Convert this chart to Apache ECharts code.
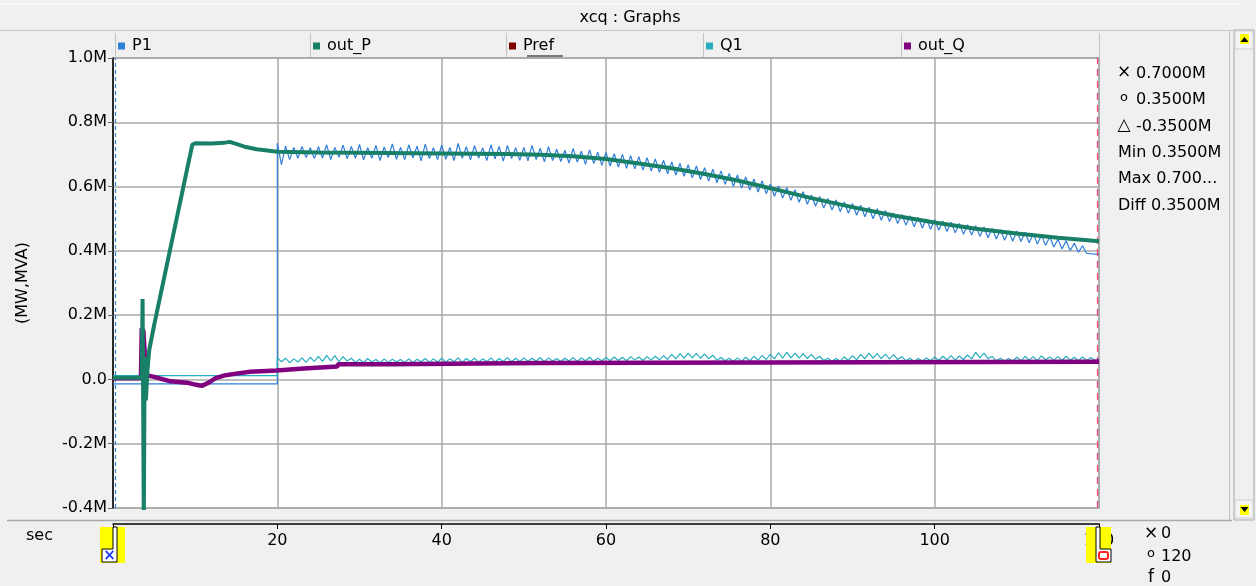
<!DOCTYPE html>
<html><head><meta charset="utf-8">
<script src="https://cdn.jsdelivr.net/npm/echarts@6/dist/echarts.min.js"></script>
<style>html,body{margin:0;padding:0;background:#f0f0f0;}#c{width:1256px;height:586px;}</style>
</head><body><div id="c"></div><script>
// ---------- data ----------
const seriesNames = ['P1', 'out_P', 'Pref', 'Q1', 'out_Q'];
const seriesColors = ['#2f7ed8', '#198068', '#800000', '#27adc0', '#800080'];
const xMin = 0, xMax = 120, xStep = 20;
const yMin = -0.4, yMax = 1.0, yStep = 0.2;
const yName = '(MW,MVA)';
const xName = 'sec';
const titleText = 'xcq : Graphs';

// P1 (M): flat before t=20, noisy samples every 0.5 s from t=20
const p1Early = [[0, -0.014], [20, -0.014]];
const noisyStart = 20, noisyStep = 0.5;
const p1Noisy = [
  0.735, 0.668, 0.726, 0.684, 0.722, 0.688, 0.725, 0.690, 0.721, 0.687,
  0.724, 0.689, 0.730, 0.684, 0.722, 0.691, 0.729, 0.686, 0.725, 0.688,
  0.731, 0.683, 0.721, 0.688, 0.728, 0.681, 0.723, 0.690, 0.733, 0.685,
  0.722, 0.684, 0.730, 0.689, 0.726, 0.680, 0.732, 0.687, 0.721, 0.684,
  0.729, 0.685, 0.722, 0.681, 0.734, 0.688, 0.724, 0.683, 0.727, 0.689,
  0.720, 0.681, 0.730, 0.686, 0.725, 0.679, 0.728, 0.687, 0.721, 0.682,
  0.722, 0.680, 0.728, 0.684, 0.719, 0.677, 0.724, 0.681, 0.716, 0.678,
  0.713, 0.673, 0.719, 0.676, 0.710, 0.669, 0.714, 0.672, 0.707, 0.666,
  0.706, 0.664, 0.702, 0.661, 0.700, 0.657, 0.696, 0.655, 0.693, 0.651,
  0.690, 0.648, 0.686, 0.644, 0.682, 0.640, 0.677, 0.636, 0.672, 0.632,
  0.668, 0.627, 0.664, 0.622, 0.659, 0.617, 0.654, 0.612, 0.649, 0.607,
  0.641, 0.601, 0.636, 0.595, 0.630, 0.589, 0.624, 0.583, 0.618, 0.578,
  0.608, 0.570, 0.602, 0.564, 0.597, 0.557, 0.590, 0.551, 0.584, 0.545,
  0.574, 0.539, 0.569, 0.533, 0.563, 0.527, 0.558, 0.522, 0.552, 0.517,
  0.547, 0.511, 0.542, 0.506, 0.536, 0.500, 0.531, 0.495, 0.526, 0.491,
  0.518, 0.485, 0.513, 0.480, 0.509, 0.475, 0.504, 0.471, 0.499, 0.467,
  0.497, 0.464, 0.493, 0.460, 0.489, 0.456, 0.485, 0.452, 0.481, 0.449,
  0.478, 0.445, 0.474, 0.441, 0.470, 0.437, 0.466, 0.433, 0.462, 0.430,
  0.462, 0.429, 0.458, 0.425, 0.453, 0.421, 0.449, 0.417, 0.444, 0.412,
  0.436, 0.406, 0.431, 0.401, 0.424, 0.396, 0.416, 0.392, 0.391, 0.390,
  0.390
];

// Q1 (M)
const q1Early = [[0, 0.012], [20, 0.012]];
const q1Noisy = [
  0.068, 0.055, 0.066, 0.052, 0.064, 0.054, 0.067, 0.053, 0.069, 0.056,
  0.072, 0.056, 0.075, 0.058, 0.074, 0.055, 0.071, 0.057, 0.066, 0.053,
  0.063, 0.052, 0.065, 0.054, 0.062, 0.051, 0.064, 0.053, 0.063, 0.054,
  0.062, 0.053, 0.064, 0.052, 0.063, 0.055, 0.065, 0.053, 0.064, 0.054,
  0.066, 0.054, 0.064, 0.055, 0.067, 0.053, 0.065, 0.056, 0.066, 0.054,
  0.064, 0.055, 0.067, 0.054, 0.065, 0.056, 0.068, 0.055, 0.066, 0.056,
  0.067, 0.056, 0.066, 0.057, 0.068, 0.055, 0.067, 0.057, 0.065, 0.056,
  0.066, 0.057, 0.068, 0.056, 0.067, 0.058, 0.069, 0.057, 0.066, 0.058,
  0.068, 0.058, 0.070, 0.059, 0.069, 0.058, 0.071, 0.060, 0.070, 0.059,
  0.071, 0.060, 0.072, 0.061, 0.074, 0.062, 0.078, 0.064, 0.080, 0.066,
  0.082, 0.067, 0.081, 0.066, 0.079, 0.064, 0.075, 0.060, 0.068, 0.058,
  0.066, 0.056, 0.067, 0.057, 0.069, 0.058, 0.072, 0.060, 0.074, 0.062,
  0.078, 0.064, 0.083, 0.066, 0.085, 0.067, 0.082, 0.066, 0.080, 0.065,
  0.078, 0.063, 0.072, 0.059, 0.066, 0.056, 0.065, 0.057, 0.070, 0.059,
  0.074, 0.061, 0.078, 0.064, 0.082, 0.066, 0.080, 0.065, 0.079, 0.064,
  0.077, 0.062, 0.071, 0.058, 0.066, 0.056, 0.065, 0.057, 0.067, 0.058,
  0.070, 0.059, 0.072, 0.061, 0.074, 0.060, 0.073, 0.062, 0.076, 0.064,
  0.085, 0.067, 0.082, 0.064, 0.072, 0.058, 0.066, 0.056, 0.065, 0.057,
  0.069, 0.058, 0.072, 0.060, 0.071, 0.059, 0.073, 0.061, 0.070, 0.060,
  0.071, 0.059, 0.072, 0.060, 0.069, 0.058, 0.070, 0.059, 0.068, 0.060,
  0.064
];

// out_P (M) [time s, value]
const outP = [
  [0, 0.005], [3.5, 0.005], [3.6, 0.25], [3.75, -0.45], [3.85, 0.07], [4.0, -0.065],
  [4.2, 0.03], [4.4, 0.09], [5, 0.168], [6, 0.289], [7, 0.41], [8, 0.531], [9, 0.652],
  [9.65, 0.73], [10, 0.735], [12, 0.734], [13.5, 0.736], [14.2, 0.739], [15, 0.733],
  [16, 0.724], [17.5, 0.716], [20, 0.708], [25, 0.706], [30, 0.705], [40, 0.703],
  [48, 0.701], [52, 0.699], [56, 0.694], [60, 0.686], [64, 0.672], [68, 0.657],
  [72, 0.639], [76, 0.619], [80, 0.595], [85, 0.564], [90, 0.536], [95, 0.51],
  [100, 0.488], [105, 0.469], [110, 0.454], [115, 0.441], [120, 0.43]
];

// out_Q (M) [time s, value]
const outQ = [
  [0, 0.004], [3.4, 0.004], [3.5, 0.159], [3.7, 0.15], [4.0, 0.02], [4.3, 0.012],
  [5, 0.008], [7, -0.006], [9, -0.01], [10, -0.016], [10.8, -0.02], [11.5, -0.012],
  [12.5, 0.004], [13.5, 0.012], [15, 0.018], [16.7, 0.024], [19.9, 0.028], [20.1, 0.034],
  [23.2, 0.034], [23.3, 0.04], [27.3, 0.04], [27.4, 0.047], [33.7, 0.047], [33.8, 0.051],
  [52, 0.051], [52.1, 0.055], [120, 0.055]
];

const pref = [];

// cursors (s)
const cursorCross = 0.25, cursorCircle = 119.8;
const readoutRows = [
  ['×', '0.7000M'], ['o', '0.3500M'], ['△', '-0.3500M'],
  ['', 'Min 0.3500M'], ['', 'Max 0.700...'], ['', 'Diff 0.3500M']
];
const bottomReadout = [['×', '0'], ['o', '120'], ['f', '0']];

// ---------- chart ----------
const FONT = 'DejaVu Sans';
const FS = 16;
const toPairs = (arr) => arr.map((v, i) => [noisyStart + i * noisyStep, v]);
const p1Data = p1Early.concat(toPairs(p1Noisy));
const q1Data = q1Early.concat(toPairs(q1Noisy));

const chart = echarts.init(document.getElementById('c'), null, {renderer: 'canvas'});

const tabX = [115, 310, 506, 703, 901, 1099];
const legends = seriesNames.map((n, i) => ({
  left: tabX[i] + 3, top: 38, icon: 'rect', itemWidth: 7, itemHeight: 7, itemGap: 0,
  selectedMode: false, padding: 0,
  textStyle: {fontFamily: FONT, fontSize: FS, color: '#000', padding: [0, 0, 0, 2]},
  data: [n]
}));

const graphics = [];
// title bar
graphics.push({type: 'line', shape: {x1: 0, y1: 4, x2: 1240, y2: 4}, style: {stroke: '#ffffff', lineWidth: 1}});
graphics.push({type: 'line', shape: {x1: 0, y1: 30.5, x2: 1236, y2: 30.5}, style: {stroke: '#c8c8c8', lineWidth: 1}});
graphics.push({type: 'text', x: 630, y: 18, style: {text: titleText, font: FS + 'px ' + FONT, fill: '#000', textAlign: 'center', textVerticalAlign: 'middle'}});
// legend tab separators
tabX.forEach(x => {
  graphics.push({type: 'line', shape: {x1: x + 0.5, y1: 33, x2: x + 0.5, y2: 57}, style: {stroke: '#c4c4c4', lineWidth: 1}});
});
// Pref underline
graphics.push({type: 'line', shape: {x1: 527, y1: 56, x2: 563, y2: 56}, style: {stroke: '#000', lineWidth: 1.2}});
// bottom separator
graphics.push({type: 'line', shape: {x1: 7, y1: 520.5, x2: 1232, y2: 520.5}, style: {stroke: '#a8a8a8', lineWidth: 1.5}});
// right panel border / scrollbar
graphics.push({type: 'line', shape: {x1: 1229.5, y1: 31, x2: 1229.5, y2: 520}, style: {stroke: '#c0c0c0', lineWidth: 1}});
graphics.push({type: 'rect', shape: {x: 1234, y: 30, width: 20, height: 490}, style: {fill: '#f0f0f0', stroke: '#a8a8a8', lineWidth: 1}});
graphics.push({type: 'rect', shape: {x: 1235, y: 31, width: 18, height: 18}, style: {fill: '#f4f4f4', stroke: '#d0d0d0'}});
graphics.push({type: 'rect', shape: {x: 1240, y: 34, width: 9, height: 10}, style: {fill: '#ffff00'}});
graphics.push({type: 'polygon', shape: {points: [[1240.5, 42], [1248.5, 42], [1244.5, 37]]}, style: {fill: '#000'}});
graphics.push({type: 'rect', shape: {x: 1235, y: 500, width: 18, height: 18}, style: {fill: '#f4f4f4', stroke: '#d0d0d0'}});
graphics.push({type: 'rect', shape: {x: 1240, y: 505, width: 9, height: 10}, style: {fill: '#ffff00'}});
graphics.push({type: 'polygon', shape: {points: [[1240.5, 507], [1248.5, 507], [1244.5, 512]]}, style: {fill: '#000'}});
// readouts
readoutRows.forEach((r, i) => {
  const y = 74 + i * 26.3;
  if (r[0]) {
    graphics.push({type: 'text', x: 1124, y: r[0] === 'o' ? y - 3 : y - 1, style: {text: r[0], font: (r[0] === 'o' ? '13px ' : '17px ') + FONT, fill: '#000', textAlign: 'center', textVerticalAlign: 'middle'}});
    graphics.push({type: 'text', x: 1136, y: y, style: {text: r[1], font: FS + 'px ' + FONT, fill: '#000', textVerticalAlign: 'middle'}});
  } else {
    graphics.push({type: 'text', x: 1118, y: y, style: {text: r[1], font: FS + 'px ' + FONT, fill: '#000', textVerticalAlign: 'middle'}});
  }
});
bottomReadout.forEach((r, i) => {
  const y = [534, 557, 578][i];
  graphics.push({type: 'text', x: 1151, y: r[0] === 'o' ? y - 3 : y, style: {text: r[0], font: (r[0] === 'o' ? '13px ' : '17px ') + FONT, fill: '#000', textAlign: 'center', textVerticalAlign: 'middle'}});
  graphics.push({type: 'text', x: 1161, y: y, style: {text: r[1], font: FS + 'px ' + FONT, fill: '#000', textVerticalAlign: 'middle'}});
});
// x axis name
graphics.push({type: 'text', x: 26, y: 536, style: {text: xName, font: FS + 'px ' + FONT, fill: '#000', textVerticalAlign: 'middle'}});
// cursor handles
graphics.push({type: 'rect', z: 100, shape: {x: 100, y: 527, width: 25, height: 36}, style: {fill: '#ffff00'}});
graphics.push({type: 'polygon', z: 101, shape: {points: [[113, 527], [117, 527], [117, 562], [102, 562], [102, 549], [113, 549]]}, style: {fill: '#fff', stroke: '#000', lineWidth: 1}});
graphics.push({type: 'text', z: 102, x: 109.5, y: 556, style: {text: '×', font: 'bold 15px ' + FONT, fill: '#1a3cff', textAlign: 'center', textVerticalAlign: 'middle'}});
graphics.push({type: 'rect', z: 100, shape: {x: 1086, y: 527, width: 25, height: 36}, style: {fill: '#ffff00'}});
graphics.push({type: 'polygon', z: 101, shape: {points: [[1096, 527], [1100, 527], [1100, 549], [1111, 549], [1111, 562], [1096, 562]]}, style: {fill: '#fff', stroke: '#000', lineWidth: 1}});
graphics.push({type: 'rect', z: 102, shape: {x: 1099, y: 552, width: 9, height: 7, r: 2}, style: {fill: '#fff', stroke: '#ff2020', lineWidth: 2}});

const lineSeries = (name, data, width, z) => ({
  name, type: 'line', data, showSymbol: false, symbol: 'none', z,
  lineStyle: {width, color: seriesColors[seriesNames.indexOf(name)]},
  itemStyle: {color: seriesColors[seriesNames.indexOf(name)]},
  emphasis: {disabled: true}, animation: false, clip: true
});

const s1 = lineSeries('P1', p1Data, 1.2, 2);
s1.markLine = {
  silent: true, symbol: 'none', animation: false, label: {show: false},
  data: [
    {xAxis: cursorCross, lineStyle: {color: '#2f7ed8', type: [4, 3], width: 1.2}},
    {xAxis: cursorCircle, lineStyle: {color: '#ff3d6e', type: [7, 5], width: 1.2}}
  ]
};

chart.setOption({
  animation: false,
  backgroundColor: '#f0f0f0',
  textStyle: {fontFamily: FONT},
  legend: legends,
  graphic: graphics,
  grid: {left: 113, right: 157, top: 58, bottom: 78, show: true, backgroundColor: '#ffffff', borderColor: '#a8a8a8', borderWidth: 1.5},
  xAxis: {
    type: 'value', min: xMin, max: xMax, interval: xStep, offset: 16,
    axisLine: {show: true, onZero: false, lineStyle: {color: '#000', width: 1.5}},
    axisTick: {show: true, length: 5, lineStyle: {color: '#000'}},
    axisLabel: {fontFamily: FONT, fontSize: FS, color: '#000', margin: 9},
    splitLine: {show: true, lineStyle: {color: '#a8a8a8', width: 1.5}}
  },
  yAxis: {
    type: 'value', min: yMin, max: yMax, interval: yStep,
    name: yName, nameLocation: 'middle', nameGap: 82, nameRotate: 90,
    nameTextStyle: {fontFamily: FONT, fontSize: FS, color: '#000'},
    axisLine: {show: true, onZero: false, lineStyle: {color: '#000', width: 1.5}},
    axisTick: {show: true, length: 5, lineStyle: {color: '#666'}},
    axisLabel: {fontFamily: FONT, fontSize: FS, color: '#000', margin: 6,
      formatter: v => Math.abs(v) < 1e-9 ? '0.0' : v.toFixed(1) + 'M'},
    splitLine: {show: true, lineStyle: {color: '#a8a8a8', width: 1.5}}
  },
  series: [
    s1,
    lineSeries('Q1', q1Data, 1.2, 3),
    lineSeries('Pref', pref, 2, 4),
    lineSeries('out_Q', outQ, 4.5, 5),
    lineSeries('out_P', outP, 4, 6)
  ]
});
</script></body></html>
